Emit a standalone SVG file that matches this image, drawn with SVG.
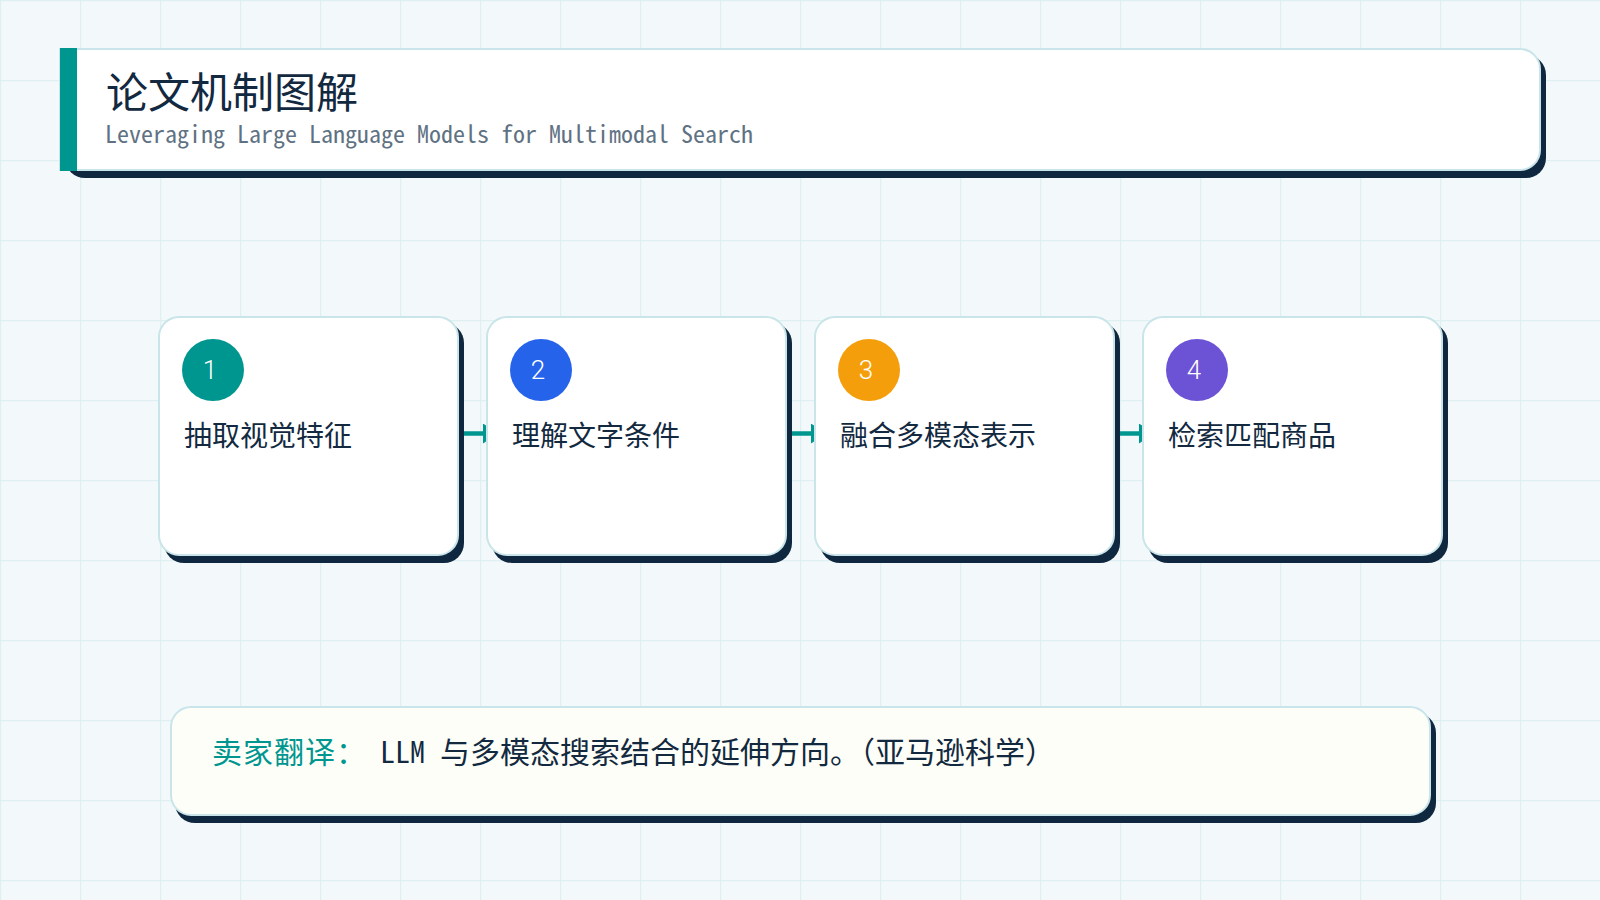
<svg xmlns="http://www.w3.org/2000/svg" width="1600" height="900" viewBox="0 0 1600 900">
  <defs>
    <pattern id="grid" width="80" height="80" patternUnits="userSpaceOnUse">
      <rect width="80" height="80" fill="#f3f9fb"/>
      <path d="M0.5,0 V80 M0,0.5 H80" stroke="#dff0f3" stroke-width="1.5" fill="none"/>
    </pattern>
    <marker id="arrow" markerUnits="userSpaceOnUse" markerWidth="16" markerHeight="20" refX="0" refY="10" orient="auto">
      <path d="M0,0 L15,10 L0,20 z" fill="#009690"/>
    </marker>
    <style>
      .shadow { fill: #10283f; }
      .card { fill: #ffffff; stroke: #c9e5ea; stroke-width: 2; }
      .label { font-family: "Noto Sans CJK SC", "Noto Sans", sans-serif; font-size: 28px; fill: #12293f; }
      .num { font-family: "Roboto", "Noto Sans", "Liberation Sans", sans-serif; font-weight: 300; font-size: 26px; fill: #ffffff; text-anchor: middle; }
      .conn { stroke: #009690; stroke-width: 4.5; fill: none; }
    </style>
  </defs>

  <rect x="0" y="0" width="1600" height="900" fill="url(#grid)"/>

  <g id="header">
    <rect class="shadow" x="65" y="55" width="1481" height="123" rx="20"/>
    <path d="M60,49 H1520 A20,20 0 0 1 1540,69 V150 A20,20 0 0 1 1520,170 H60 Z" fill="#ffffff" stroke="#c9e5ea" stroke-width="2"/>
    <rect x="60" y="48" width="17" height="123" fill="#009690"/>
    <text x="106" y="108" font-family="Noto Sans Mono CJK SC, Noto Sans CJK SC, sans-serif" font-size="42" fill="#12293f">论文机制图解</text>
    <text x="105" y="143" font-family="Noto Sans Mono CJK SC, Liberation Mono, monospace" font-size="24" fill="#5f7283">Leveraging Large Language Models for Multimodal Search</text>
  </g>

  <g id="connectors">
    <line class="conn" x1="458" y1="433.5" x2="483" y2="433.5" marker-end="url(#arrow)"/>
    <line class="conn" x1="786" y1="433.5" x2="811" y2="433.5" marker-end="url(#arrow)"/>
    <line class="conn" x1="1114" y1="433.5" x2="1139" y2="433.5" marker-end="url(#arrow)"/>
  </g>

  <g id="step1">
    <rect class="shadow" x="164" y="323" width="300" height="240" rx="20"/>
    <rect class="card" x="159" y="317" width="299" height="238" rx="20"/>
    <circle cx="213" cy="370" r="31" fill="#009690"/>
    <text class="num" x="210" y="379">1</text>
    <text class="label" x="184" y="446">抽取视觉特征</text>
  </g>

  <g id="step2">
    <rect class="shadow" x="492" y="323" width="300" height="240" rx="20"/>
    <rect class="card" x="487" y="317" width="299" height="238" rx="20"/>
    <circle cx="541" cy="370" r="31" fill="#2563eb"/>
    <text class="num" x="538" y="379">2</text>
    <text class="label" x="512" y="446">理解文字条件</text>
  </g>

  <g id="step3">
    <rect class="shadow" x="820" y="323" width="300" height="240" rx="20"/>
    <rect class="card" x="815" y="317" width="299" height="238" rx="20"/>
    <circle cx="869" cy="370" r="31" fill="#f59e0b"/>
    <text class="num" x="866" y="379">3</text>
    <text class="label" x="840" y="446">融合多模态表示</text>
  </g>

  <g id="step4">
    <rect class="shadow" x="1148" y="323" width="300" height="240" rx="20"/>
    <rect class="card" x="1143" y="317" width="299" height="238" rx="20"/>
    <circle cx="1197" cy="370" r="31" fill="#6c52d4"/>
    <text class="num" x="1194" y="379">4</text>
    <text class="label" x="1168" y="446">检索匹配商品</text>
  </g>

  <g id="note">
    <rect class="shadow" x="175" y="713" width="1261" height="110" rx="20"/>
    <rect x="171" y="707" width="1259" height="108" rx="20" fill="#fdfef8" stroke="#c9e5ea" stroke-width="2"/>
    <text x="212" y="763" font-family="Noto Sans CJK SC, sans-serif" font-size="30" letter-spacing="1" fill="#009690">卖家翻译：</text>
    <text x="380" y="763" font-family="Noto Sans Mono CJK SC, Noto Sans CJK SC, monospace" font-size="30" fill="#12293f">LLM 与多模态搜索结合的延伸方向。（亚马逊科学）</text>
  </g>
</svg>
